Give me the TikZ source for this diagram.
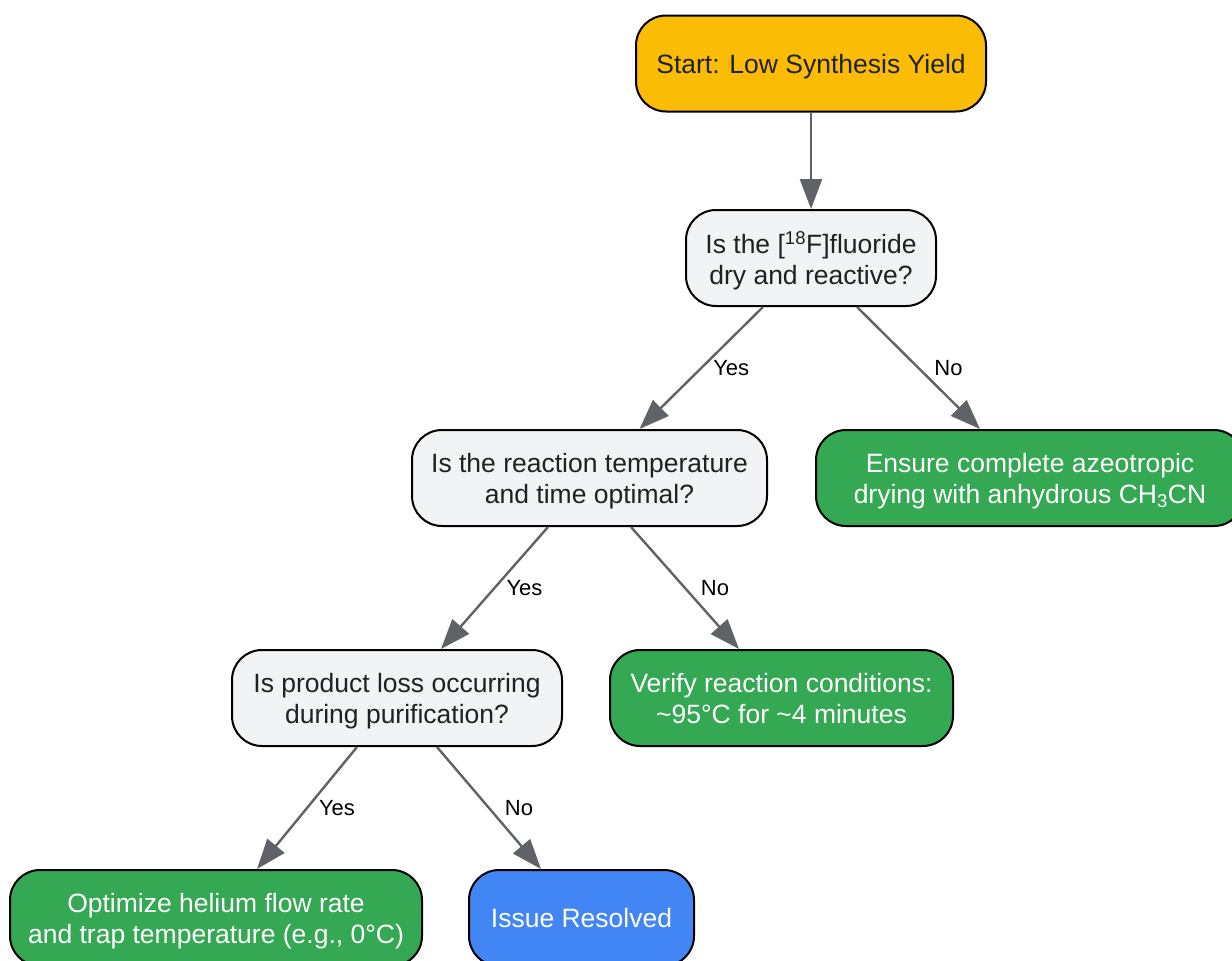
\documentclass[tikz,border=0pt]{standalone}
\usepackage{fontspec}
\setmainfont{Liberation Sans}
\usetikzlibrary{arrows.meta}
\definecolor{startyel}{HTML}{FBBC05}
\definecolor{askgray}{HTML}{F1F3F4}
\definecolor{askink}{HTML}{202124}
\definecolor{fixgreen}{HTML}{34A853}
\definecolor{doneblue}{HTML}{4285F4}
\definecolor{linkgray}{HTML}{5F6368}
\begin{document}
\begin{tikzpicture}[x=1pt,y=-1pt,
  box/.style={draw=black, line width=2pt, rounded corners=30pt, minimum height=96pt,
    inner sep=0pt, align=center, text depth=0pt, font=\fontsize{26.5}{31}\selectfont},
  ask/.style={box, fill=askgray, text=askink},
  fix/.style={box, fill=fixgreen, text=white},
  link/.style={draw=linkgray, line width=2.4pt, -{Triangle[length=30pt,width=22pt]}},
  lbl/.style={font=\fontsize{22}{26}\selectfont, text=black, xshift=30pt}]
\useasboundingbox (0,0) rectangle (1232,961);
\clip (0,0) rectangle (1232,961);

\node[box, fill=startyel, text=askink, minimum width=350pt] (start) at (811,63.5) {Start: Low Synthesis Yield};
\node[ask, minimum width=250pt] (dry) at (811,258) {Is the [\textsuperscript{18}F]fluoride\\dry and reactive?};
\node[ask, minimum width=355pt] (temp) at (589.5,478) {Is the reaction temperature\\and time optimal?};
\node[fix, minimum width=428pt] (azeo) at (1030,478) {Ensure complete azeotropic\\drying with anhydrous CH\textsubscript{3}CN};
\node[ask, minimum width=330pt] (loss) at (397,698) {Is product loss occurring\\during purification?};
\node[fix, minimum width=343pt] (cond) at (781.5,698) {Verify reaction conditions:\\\textasciitilde95°C for \textasciitilde4 minutes};
\node[fix, minimum width=412pt] (flow) at (216,918) {Optimize helium flow rate\\and trap temperature (e.g., 0°C)};
\node[box, fill=doneblue, text=white, minimum width=225pt] (done) at (581.5,918) {Issue Resolved};

\draw[link] (start) -- (dry);
\draw[link] ([xshift=-48pt]dry.south) -- node[lbl] {Yes} ([xshift=50pt]temp.north);
\draw[link] ([xshift=46pt]dry.south) -- node[lbl] {No} ([xshift=-50pt]azeo.north);
\draw[link] ([xshift=-41.5pt]temp.south) -- node[lbl] {Yes} ([xshift=44pt]loss.north);
\draw[link] ([xshift=41.5pt]temp.south) -- node[lbl] {No} ([xshift=-42.5pt]cond.north);
\draw[link] ([xshift=-40pt]loss.south) -- node[lbl] {Yes} ([xshift=41pt]flow.north);
\draw[link] ([xshift=40pt]loss.south) -- node[lbl] {No} ([xshift=-40.5pt]done.north);
\end{tikzpicture}
\end{document}
